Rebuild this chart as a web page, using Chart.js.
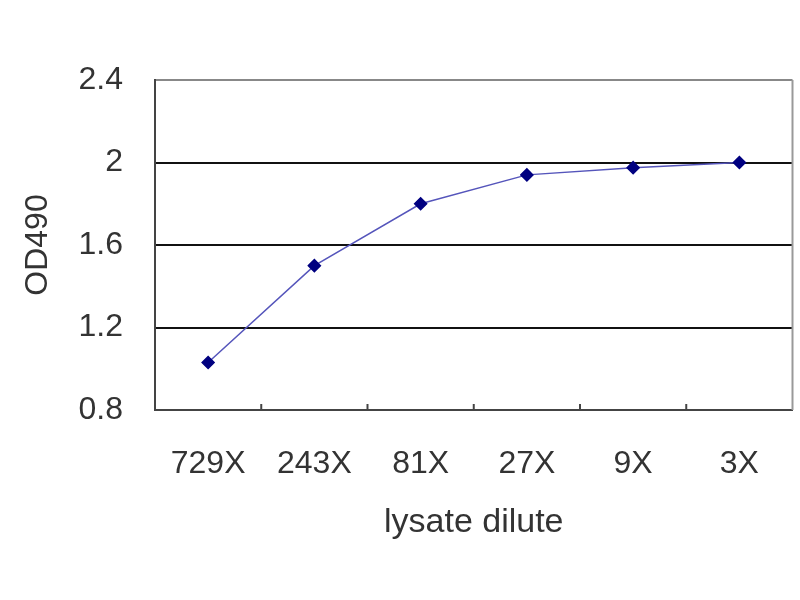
<!DOCTYPE html>
<html>
<head>
<meta charset="utf-8">
<script src="https://cdn.jsdelivr.net/npm/chart.js@4"></script>
<style>
  html, body { margin: 0; padding: 0; background: #fff; }
  #wrap { width: 800px; height: 600px; }
</style>
</head>
<body>
<div id="wrap"><canvas id="line-chart" width="800" height="600"></canvas></div>
<script>
const dilutions = ["729X", "243X", "81X", "27X", "9X", "3X"];
const od490 = [1.03, 1.50, 1.80, 1.94, 1.975, 2.0];
const yTicks = [0.8, 1.2, 1.6, 2.0, 2.4];

// small ticks pointing up from the x axis, between categories
const innerTicks = {
  id: 'innerTicks',
  afterDraw(chart) {
    const x = chart.scales.x;
    const ctx = chart.ctx;
    const bottom = chart.chartArea.bottom;
    const half = (x.getPixelForValue(1) - x.getPixelForValue(0)) / 2;
    ctx.save();
    ctx.strokeStyle = '#444';
    ctx.lineWidth = 2;
    for (let i = 0; i < dilutions.length - 1; i++) {
      const px = x.getPixelForValue(i) + half;
      ctx.beginPath();
      ctx.moveTo(px, bottom);
      ctx.lineTo(px, bottom - 6);
      ctx.stroke();
    }
    // grey frame on right side
    ctx.strokeStyle = '#999';
    ctx.beginPath();
    ctx.moveTo(chart.chartArea.right, chart.chartArea.top);
    ctx.lineTo(chart.chartArea.right, bottom);
    ctx.stroke();
    ctx.restore();
  }
};

const font = { family: 'Liberation Sans', size: 32 };

new Chart(document.getElementById("line-chart"), {
  type: 'line',
  data: {
    labels: dilutions,
    datasets: [{
      data: od490,
      borderColor: '#5555bb',
      borderWidth: 1.5,
      pointStyle: 'rectRot',
      pointRadius: 6,
      pointBackgroundColor: '#000080',
      pointBorderColor: '#000080',
      tension: 0,
      fill: false
    }]
  },
  plugins: [innerTicks],
  options: {
    responsive: false,
    animation: false,
    layout: { padding: { left: 0, top: 80, right: 4, bottom: 0 } },
    plugins: { legend: { display: false }, tooltip: { enabled: false } },
    scales: {
      x: {
        offset: true,
        afterFit: s => { s.height = 190; },
        grid: { display: false, drawTicks: false },
        border: { color: '#444', width: 2 },
        ticks: { color: '#333', padding: 35, font: font },
        title: {
          display: true, text: 'lysate dilute', color: '#333',
          font: { family: 'Liberation Sans', size: 34 },
          padding: { top: 0, bottom: 57 }
        }
      },
      y: {
        min: 0.8,
        max: 2.4,
        afterFit: s => { s.width = 155; },
        afterBuildTicks: s => { s.ticks = yTicks.map(v => ({ value: v })); },
        grid: {
          drawTicks: false,
          lineWidth: 2,
          color: c => (c.tick && c.tick.value >= 2.4) ? '#888' : '#111'
        },
        border: { color: '#444', width: 2 },
        ticks: {
          color: '#333', padding: 32, font: font,
          callback: v => String(v)
        },
        title: {
          display: true, text: 'OD490', color: '#333',
          font: font,
          padding: { top: 19, bottom: 0 }
        }
      }
    }
  }
});
</script>
</body>
</html>
